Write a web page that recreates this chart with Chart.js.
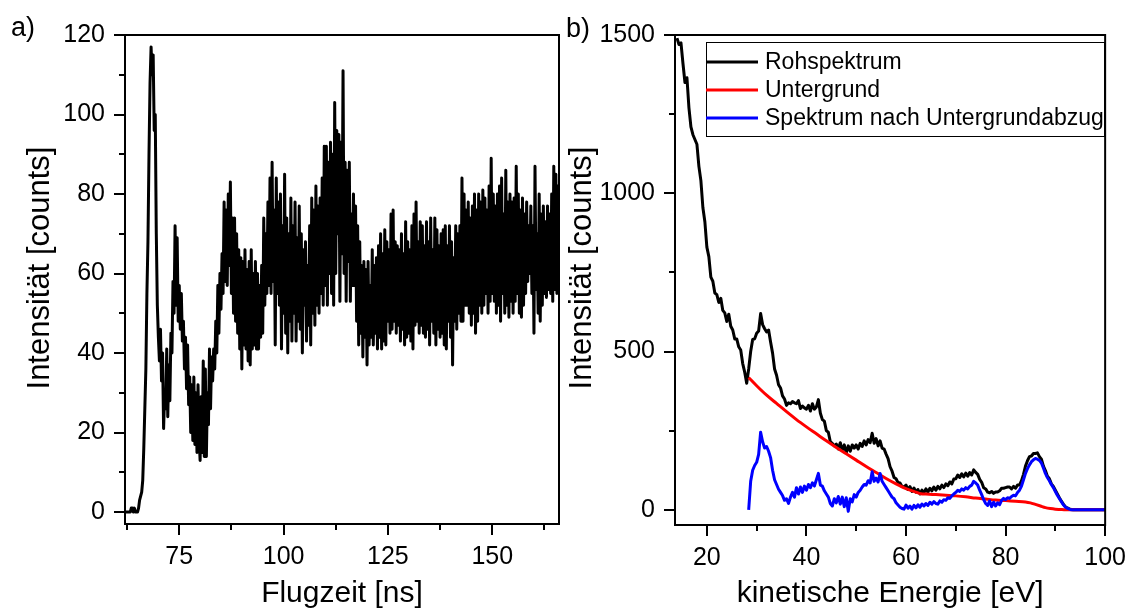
<!DOCTYPE html>
<html>
<head>
<meta charset="utf-8">
<script src="https://cdn.jsdelivr.net/npm/chart.js@4.4.1/dist/chart.umd.min.js"></script>
<style>
  body { margin: 0; background: #fff; }
  #wrap { position: relative; width: 1133px; height: 610px; }
  canvas { position: absolute; top: 0; }
</style>
</head>
<body>
<div id="wrap">
  <canvas id="chartFlug" width="566" height="610" style="left:0"></canvas>
  <canvas id="chartEnergie" width="567" height="610" style="left:566px"></canvas>
</div>
<script>
//Data a): time of flight spectrum, one value per 0.25 ns bin starting at 62 ns
const flugzeitStart = 62
const flugzeitStep = 0.25
const intensitaetFlug = [
  0, 0, 0, 0,   0, 0, 1, 1,   0, 1, 0, 0,   0, 1, 3, 4,          // 62-65
  5, 8, 16, 26,   36, 55, 68, 90,   108, 117, 110, 115,         // 66-68
  96, 100, 70, 52,   44, 38, 46, 33,   40, 21, 30, 26,          // 69-71
  41, 24, 37, 28,   45, 40, 58, 50,   72, 52, 69, 48,           // 72-74
  57, 46, 55, 43,   48, 36, 44, 31,   42, 27, 34, 20,           // 75-77
  32, 18, 34, 17,   30, 15, 32, 19,   13, 29, 15, 38,           // 78-80
  14, 36, 14, 30,   22, 41, 26, 39,   33, 41, 36, 48,           // 81-83
  40, 57, 45, 60,   51, 65, 55, 78,   58, 76, 57, 80,           // 84-86
  62, 83, 55, 74,   50, 74, 48, 70,   45, 66, 41, 64,           // 87-89
  36, 63, 42, 66,   41, 61, 38, 63,   37, 66, 41, 60,           // 90-92
  42, 63, 41, 60,   41, 57, 44, 62,   45, 74, 52, 70,           // 93-95
  55, 78, 57, 84,   55, 88, 58, 76,   42, 84, 55, 78,           // 96-98
  52, 80, 41, 72,   50, 85, 45, 74,   40, 70, 48, 79,           // 99-101
  43, 72, 50, 78,   43, 69, 48, 77,   46, 70, 40, 66,           // 102-104
  52, 68, 43, 62,   47, 72, 42, 79,   50, 76, 47, 82,           // 105-107
  52, 77, 50, 79,   55, 84, 52, 92,   57, 92, 52, 88,           // 108-110
  60, 93, 55, 90,   52, 103, 60, 96,   70, 95, 53, 93,          // 111-113
  65, 111, 60, 88,   53, 86, 63, 88,   53, 75, 57, 80,          // 114-116
  57, 77, 48, 72,   42, 68, 45, 62,   39, 63, 44, 61,           // 117-119
  37, 63, 42, 57,   44, 66, 42, 62,   45, 64, 41, 67,           // 120-122
  44, 70, 41, 65,   43, 71, 42, 68,   48, 66, 45, 75,           // 123-125
  46, 76, 48, 68,   45, 67, 47, 66,   43, 70, 46, 65,           // 126-128
  42, 73, 44, 68,   45, 66, 43, 72,   41, 75, 47, 78,           // 129-131
  48, 68, 45, 73,   47, 72, 45, 67,   44, 73, 46, 68,           // 132-134
  42, 74, 48, 66,   45, 74, 42, 71,   46, 67, 44, 70,           // 135-137
  45, 71, 42, 72,   41, 67, 48, 72,   44, 68, 37, 64,           // 138-140
  48, 72, 46, 70,   50, 72, 48, 84,   48, 80, 52, 76,           // 141-143
  52, 78, 50, 74,   47, 77, 50, 80,   45, 76, 48, 80,           // 144-146
  52, 78, 50, 81,   52, 79, 55, 76,   50, 82, 53, 89,           // 147-149
  55, 80, 53, 77,   50, 80, 52, 82,   48, 84, 55, 75,           // 150-152
  50, 86, 52, 78,   49, 80, 53, 78,   50, 79, 53, 87,           // 153-155
  55, 80, 50, 76,   49, 79, 52, 75,   55, 78, 58, 72,           // 156-158
  60, 77, 55, 72,   45, 87, 56, 70,   50, 80, 48, 75,           // 159-161
  52, 77, 55, 73,   54, 77, 56, 75,   55, 80, 53, 87,           // 162-164
  56, 85, 55, 82,   60                                          // 165-166
]
const flugTicksX = [75, 100, 125, 150]
const flugMinorX = [62.5, 87.5, 112.5, 137.5, 162.5]
const flugTicksY = [0, 20, 40, 60, 80, 100, 120]
const flugMinorY = [10, 30, 50, 70, 90, 110]

//Data b): electron energy spectrum, 0.4 eV bins
const energieStart = 14
const energieStep = 0.4
const rohspektrum = [
  1490, 1470, 1475, 1410, 1350, 1365, 1270, 1210, 1185, 1170,   // 14.0-17.6
  1155, 1085, 1040, 955, 910, 830, 800, 735, 722, 685,          // 18.0-21.6
  680, 655, 668, 630, 622, 595, 618, 580, 568, 540,             // 22.0-25.6
  540, 515, 505, 462, 435, 400, 445, 500, 538, 540,             // 26.0-29.6
  558, 565, 620, 585, 572, 562, 568, 530, 495, 445,             // 30.0-33.6
  425, 395, 385, 360, 350, 330, 338, 335, 342, 338,             // 34.0-37.6
  335, 345, 320, 328, 322, 318, 330, 312, 335, 318,             // 38.0-41.6
  325, 348, 305, 285, 280, 250, 245, 215, 210, 202,             // 42.0-45.6
  208, 192, 212, 188, 205, 180, 202, 185, 205, 195,             // 46.0-49.6
  205, 192, 210, 200, 218, 205, 222, 212, 242, 210,             // 50.0-53.6
  225, 202, 218, 195, 192, 176, 162, 136, 122, 102,             // 54.0-57.6
  98, 86, 85, 74, 72, 78, 64, 73, 58, 69,                       // 58.0-61.6
  56, 64, 50, 62, 54, 66, 56, 68, 60, 72,                       // 62.0-65.6
  62, 74, 66, 78, 70, 82, 76, 88, 82, 97,                       // 66.0-69.6
  98, 110, 102, 114, 104, 116, 106, 118, 110, 126,              // 70.0-73.6
  118, 112, 96, 87, 70, 66, 56, 54, 58, 52,                     // 74.0-77.6
  56, 56, 60, 68, 68, 70, 72, 72, 66, 74,                       // 78.0-81.6
  68, 78, 78, 92, 112, 138, 155, 168, 170, 178,                 // 82.0-85.6
  178, 180, 168, 160, 138, 124, 106, 98, 82, 74,                // 86.0-89.6
  62, 50, 38, 28, 18, 10, 6, 3, 1, 0,                           // 90.0-93.6
  0, 0, 0, 0, 0, 0, 0, 0, 0, 0,                                 // 94.0-97.6
  0, 0, 0, 0, 0, 0                                              // 98.0-100.0
]
const abzugStart = 28.4
const spektrumAbzug = [
  0, 90, 125, 140, 150, 175, 245, 215, 195, 200,                // 28.4-32.0
  185, 165, 125, 95, 80, 65, 55, 45, 30, 35,                    // 32.4-36.0
  20, 40, 55, 40, 70, 50, 72, 55, 75, 62,                       // 36.4-40.0
  80, 70, 85, 75, 95, 115, 78, 75, 60, 50,                      // 40.4-44.0
  40, 20, 12, 35, 22, 42, 18, 40, 10, 38,                       // 44.4-48.0
  -5, 35, 25, 48, 40, 55, 62, 72, 80, 78,                       // 48.4-52.0
  92, 85, 120, 90, 100, 88, 115, 90, 80, 70,                    // 52.4-56.0
  60, 50, 40, 35, 22, 15, 8, 4, 2, 15,                          // 56.4-60.0
  5, 12, 2, 14, 6, 16, 8, 18, 12, 20,                           // 60.4-64.0
  14, 24, 18, 26, 20, 18, 28, 24, 32, 30,                       // 64.4-68.0
  38, 36, 44, 50, 55, 62, 58, 66, 62, 70,                       // 68.4-72.0
  66, 74, 78, 90, 85, 78, 62, 48, 32, 20,                       // 72.4-76.0
  14, 28, 10, 24, 12, 22, 16, 30, 36, 32,                       // 76.4-80.0
  38, 36, 42, 46, 44, 55, 62, 75, 95, 115,                      // 80.4-84.0
  130, 142, 152, 158, 162, 160, 156, 148, 132, 115,             // 84.4-88.0
  102, 92, 80, 70, 58, 46, 36, 26, 16, 9,                       // 88.4-92.0
  5, 2, 0, 0, 0, 0, 0, 0, 0, 0,                                 // 92.4-96.0
  0, 0, 0, 0, 0, 0, 0, 0, 0, 0                                  // 96.4-100.0
]
const untergrundE = [28.4, 30, 32, 34, 36, 38, 40, 42, 44, 46, 48, 50, 52, 54, 56, 58, 60, 62, 63, 64,
  66, 68, 70, 72, 74, 76, 78, 80, 82, 84, 85, 86, 87, 88, 89, 90, 91, 92, 100]
const untergrund = [418, 392, 362, 336, 310, 285, 262, 240, 218, 197, 177, 157, 137, 118, 99, 82, 67, 56, 51, 50,
  48, 46, 44, 41, 37, 34, 31, 29, 27, 25, 22, 17, 12, 7, 4, 2, 1, 0, 0]
const energieTicksX = [20, 40, 60, 80, 100]
const energieMinorX = [30, 50, 70, 90]
const energieTicksY = [0, 500, 1000, 1500]
const energieMinorY = [250, 750, 1250]

const fontFamily = '"Liberation Sans", Arial, sans-serif'

//Plugin: frame, minor ticks, axis titles, panel tag and legend box
const deko = {
  id: 'deko',
  afterDraw(chart, args, o) {
    const ctx = chart.ctx
    const a = chart.chartArea
    const xs = chart.scales.x
    const ys = chart.scales.y
    ctx.save()
    ctx.strokeStyle = '#000'
    ctx.lineWidth = 2
    ctx.strokeRect(a.left, a.top, a.right - a.left, a.bottom - a.top)

    ctx.beginPath()
    o.minorX.forEach(v => {
      const px = Math.round(xs.getPixelForValue(v))
      ctx.moveTo(px, a.bottom)
      ctx.lineTo(px, a.bottom + 6)
    })
    o.minorY.forEach(v => {
      const py = Math.round(ys.getPixelForValue(v))
      ctx.moveTo(a.left, py)
      ctx.lineTo(a.left - 6, py)
    })
    ctx.stroke()

    ctx.fillStyle = '#000'
    ctx.font = '30px ' + fontFamily
    ctx.textAlign = 'center'
    ctx.textBaseline = 'middle'
    ctx.fillText(o.xTitle, (a.left + a.right) / 2, o.xTitleY)
    ctx.save()
    ctx.translate(o.yTitleX, o.yTitleY)
    ctx.rotate(-Math.PI / 2)
    ctx.font = '31px ' + fontFamily
    ctx.fillText(o.yTitle, 0, 0)
    ctx.restore()

    ctx.font = '27px ' + fontFamily
    ctx.textAlign = 'left'
    ctx.fillText(o.tag, o.tagX, o.tagY)

    if (o.legend) {
      const L = o.legend
      ctx.lineWidth = 1
      ctx.strokeRect(L.x + 0.5, L.y + 0.5, L.w, L.h)
      ctx.font = '23px ' + fontFamily
      chart.data.datasets.forEach((ds, i) => {
        const ry = L.y + L.first + i * L.row
        ctx.strokeStyle = ds.borderColor
        ctx.lineWidth = 3
        ctx.beginPath()
        ctx.moveTo(L.x, ry)
        ctx.lineTo(L.x + 52, ry)
        ctx.stroke()
        ctx.fillText(ds.label, L.x + 59, ry + 1)
      })
    }
    ctx.restore()
  }
}

function axis(min, max, ticks, size, isX) {
  return {
    type: 'linear',
    min: min,
    max: max,
    afterBuildTicks: s => { s.ticks = ticks.map(v => ({ value: v })) },
    afterFit: s => { if (isX) s.height = size; else s.width = size },
    ticks: {
      color: '#000',
      font: { family: fontFamily, size: 25 },
      padding: isX ? 7 : 9,
      maxRotation: 0,
      autoSkip: false,
      callback: v => String(v)
    },
    grid: { drawOnChartArea: false, drawTicks: true, tickLength: 11, color: '#000', lineWidth: 2 },
    border: { display: true, color: '#000', width: 2 }
  }
}

const flugPunkte = intensitaetFlug.map((v, i) => ({ x: flugzeitStart + i * flugzeitStep, y: v }))

const chartFlug = new Chart(document.getElementById('chartFlug'), {
  type: 'line',
  data: {
    datasets: [{
      label: 'Flugzeitspektrum',
      data: flugPunkte,
      borderColor: '#000',
      borderWidth: 3,
      borderJoinStyle: 'round',
      pointRadius: 0,
      tension: 0
    }]
  },
  options: {
    responsive: false,
    animation: false,
    events: [],
    layout: { padding: { top: 35, right: 7, left: 0, bottom: 0 } },
    plugins: {
      legend: { display: false },
      tooltip: { enabled: false },
      deko: {
        minorX: flugMinorX, minorY: flugMinorY,
        xTitle: 'Flugzeit [ns]', xTitleY: 594,
        yTitle: 'Intensität [counts]', yTitleX: 40, yTitleY: 268,
        tag: 'a)', tagX: 11, tagY: 29
      }
    },
    scales: {
      x: axis(62, 166, flugTicksX, 86, true),
      y: axis(-3, 120, flugTicksY, 125, false)
    }
  },
  plugins: [deko]
})

const rohPunkte = rohspektrum.map((v, i) => ({ x: energieStart + i * energieStep, y: v }))
const abzugPunkte = spektrumAbzug.map((v, i) => ({ x: abzugStart + i * energieStep, y: v }))
const untergrundPunkte = untergrund.map((v, i) => ({ x: untergrundE[i], y: v }))

const chartEnergie = new Chart(document.getElementById('chartEnergie'), {
  type: 'line',
  data: {
    datasets: [
      { label: 'Rohspektrum', data: rohPunkte, borderColor: '#000000', borderWidth: 3, borderJoinStyle: 'round', pointRadius: 0, tension: 0, order: 3 },
      { label: 'Untergrund', data: untergrundPunkte, borderColor: '#ff0000', borderWidth: 3, pointRadius: 0, cubicInterpolationMode: 'monotone', order: 2 },
      { label: 'Spektrum nach Untergrundabzug', data: abzugPunkte, borderColor: '#0000ff', borderWidth: 3, borderJoinStyle: 'round', pointRadius: 0, tension: 0, order: 1 }
    ]
  },
  options: {
    responsive: false,
    animation: false,
    events: [],
    layout: { padding: { top: 35, right: 24, left: 0, bottom: 0 } },
    plugins: {
      legend: { display: false },
      tooltip: { enabled: false },
      deko: {
        minorX: energieMinorX, minorY: energieMinorY,
        xTitle: 'kinetische Energie [eV]', xTitleY: 594,
        yTitle: 'Intensität [counts]', yTitleX: 16, yTitleY: 268,
        tag: 'b)', tagX: 0, tagY: 30,
        legend: { x: 140, y: 42, w: 398, h: 94, first: 20, row: 28 }
      }
    },
    scales: {
      x: axis(13.6, 100, energieTicksX, 85, true),
      y: axis(-48, 1500, energieTicksY, 109, false)
    }
  },
  plugins: [deko]
})
</script>
</body>
</html>
